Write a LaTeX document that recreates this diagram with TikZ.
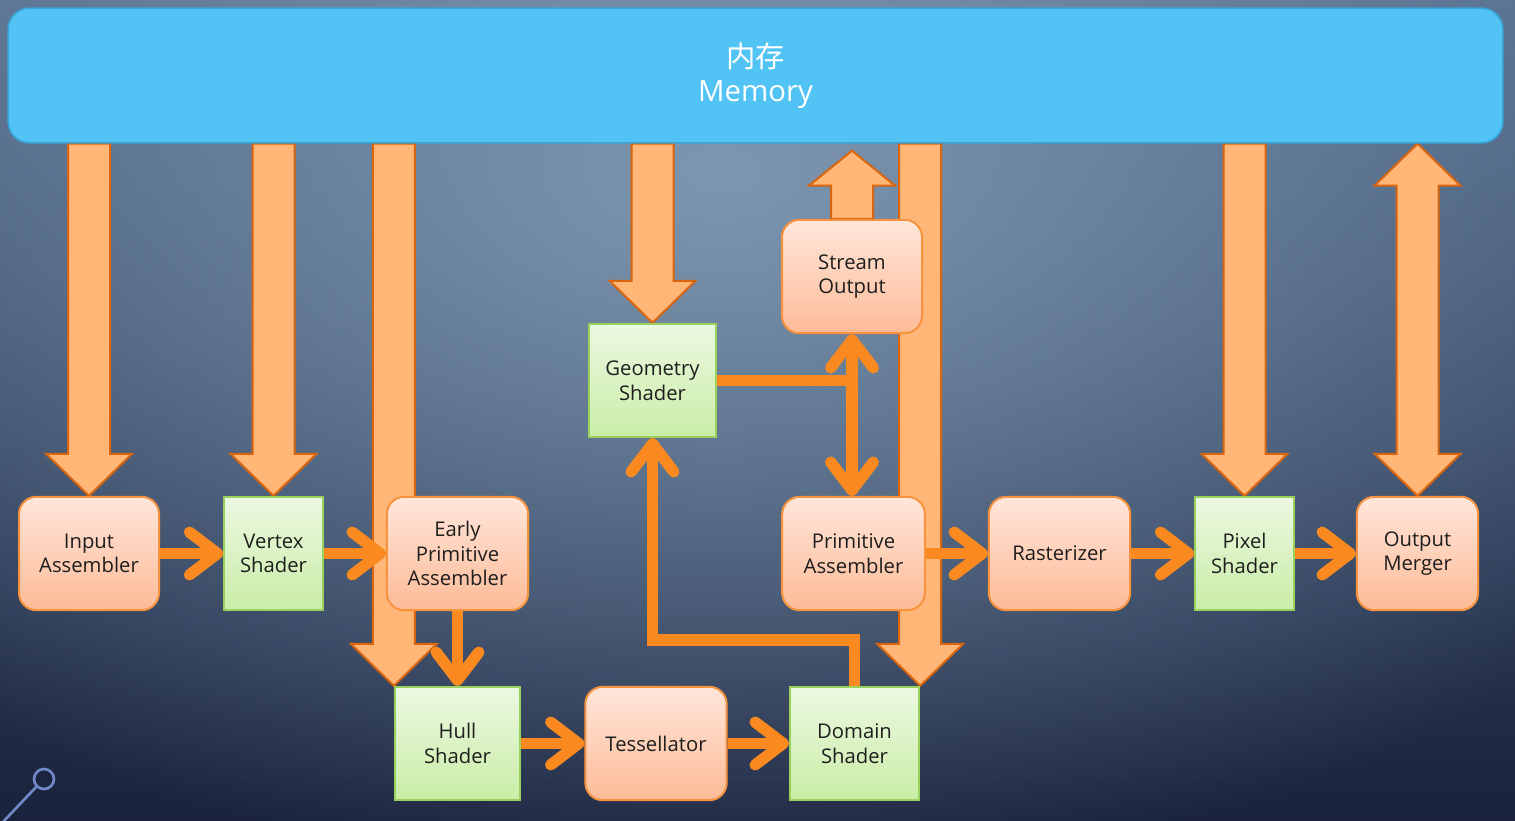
\documentclass[tikz,border=0pt]{standalone}
\usepackage{fontspec}
\setmainfont{Open Sans}
\newfontfamily\cjk{Noto Sans CJK SC}
\usetikzlibrary{arrows.meta,calc,fadings}

\definecolor{bgtop}{HTML}{4E6889}
\definecolor{bgmid}{HTML}{2F4262}
\definecolor{bgbot}{HTML}{1A223C}
\definecolor{bgglow}{HTML}{7E97B0}
\definecolor{memfill}{HTML}{52C3F5}
\definecolor{memline}{HTML}{3AA6D8}
\definecolor{widefill}{HTML}{FFB677}
\definecolor{wideline}{HTML}{D9650F}
\definecolor{flowc}{HTML}{FA8A20}
\definecolor{stagetop}{HTML}{FFE6DA}
\definecolor{stagebot}{HTML}{FDBB97}
\definecolor{stageline}{HTML}{F7923F}
\definecolor{shadertop}{HTML}{ECF8E2}
\definecolor{shaderbot}{HTML}{C9EDA6}
\definecolor{shaderline}{HTML}{9AD05C}
\definecolor{txt}{HTML}{1E1E1E}
\definecolor{decoc}{HTML}{6F89C9}

\pgfdeclarelayer{back}
\pgfdeclarelayer{pipes}
\pgfsetlayers{back,pipes,main}

\tikzfading[name=glow, inner color=transparent!0, outer color=transparent!100]

\tikzset{
  box/.style={minimum height=85pt, align=center, text=txt, inner sep=2pt,
    font=\fontsize{15.2}{18.5}\selectfont, line width=1.5pt},
  stage/.style={box, rounded corners=13pt, draw=stageline, top color=stagetop, bottom color=stagebot},
  shader/.style={box, draw=shaderline, top color=shadertop, bottom color=shaderbot},
  membar/.style={rounded corners=16pt, draw=memline, fill=memfill, line width=1.2pt, text=white,
    align=center, font=\fontsize{22}{25.5}\selectfont},
  wide/.style={draw=wideline, fill=widefill, line width=1.5pt},
  flow/.style={draw=flowc, line width=8.5pt, -{Straight Barb[length=21pt,width=32pt,round]}},
  deco/.style={draw=decoc, line width=2pt},
}

% wide arrow from the memory bar down to #1
\newcommand{\memdown}[1]{%
  \draw[wide] (#1) -- ($(#1)+(-43,-42)$) -- ($(#1)+(-21,-42)$) -- ($(mem.south -| #1)+(-21,0)$)
    -- ($(mem.south -| #1)+(21,0)$) -- ($(#1)+(21,-42)$) -- ($(#1)+(43,-42)$) -- cycle;}
% wide arrow both ways between the memory bar and #1
\newcommand{\memboth}[1]{%
  \draw[wide] (#1) -- ($(#1)+(-43,-42)$) -- ($(#1)+(-21,-42)$) -- ($(mem.south -| #1)+(-21,42)$)
    -- ($(mem.south -| #1)+(-43,42)$) -- (mem.south -| #1) -- ($(mem.south -| #1)+(43,42)$)
    -- ($(mem.south -| #1)+(21,42)$) -- ($(#1)+(21,-42)$) -- ($(#1)+(43,-42)$) -- cycle;}

\begin{document}
\begin{tikzpicture}[x=0.75pt,y=0.75pt,yscale=-1,xscale=1]
\useasboundingbox (0,0) rectangle (1515,820);

\begin{pgfonlayer}{back}
\shade[top color=bgtop, middle color=bgmid, bottom color=bgbot] (0,0) rectangle (1515,820);
\fill[bgglow, path fading=glow] (720,170) ellipse [x radius=1150, y radius=720];
\draw[deco] (44,779) circle [radius=10];
\draw[deco] (37,786) -- (3,822);
\end{pgfonlayer}

\node[membar, minimum width=1121pt, minimum height=101pt] (mem) at (755.5,75.5) {{\cjk 内存}\\Memory};

\node[stage, minimum width=105pt] (ia) at (89,553.5) {Input\\Assembler};
\node[shader, minimum width=74pt] (vs) at (273.5,553.5) {Vertex\\Shader};
\node[stage, minimum width=106pt] (epa) at (457.5,553.5) {Early\\Primitive\\Assembler};
\node[shader, minimum width=94pt] (hs) at (457.5,743.5) {Hull\\Shader};
\node[stage, minimum width=106pt] (ts) at (656,743.5) {Tessellator};
\node[shader, minimum width=97pt] (ds) at (854.5,743.5) {Domain\\Shader};
\node[shader, minimum width=95pt] (gs) at (652.5,380.5) {Geometry\\Shader};
\node[stage, minimum width=105pt] (so) at (852,276.5) {Stream\\Output};
\node[stage, minimum width=107pt] (pa) at (853.5,553.5) {Primitive\\Assembler};
\node[stage, minimum width=106pt] (rs) at (1059.5,553.5) {Rasterizer};
\node[shader, minimum width=74pt] (ps) at (1244.5,553.5) {Pixel\\Shader};
\node[stage, minimum width=91pt] (om) at (1417.5,553.5) {Output\\Merger};

\begin{pgfonlayer}{pipes}
\memdown{ia.north}
\memdown{vs.north}
\memdown{hs.north west}
\memdown{gs.north}
\memdown{ds.north east}
\memdown{ps.north}
\memboth{om.north}
\draw[wide] ($(so.north)+(-21,0)$) -- ($(mem.south -| so.north)+(-21,42)$) -- ($(mem.south -| so.north)+(-43,42)$)
  -- ($(mem.south -| so.north)+(0,7)$) -- ($(mem.south -| so.north)+(43,42)$) -- ($(mem.south -| so.north)+(21,42)$)
  -- ($(so.north)+(21,0)$) -- cycle;
\end{pgfonlayer}

\coordinate (split) at (gs.east -| so.south);
\draw[flow] (ia.east) -- (vs.west);
\draw[flow] (vs.east) -- (epa.west);
\draw[flow] (epa.south) -- (hs.north);
\draw[flow] (hs.east) -- (ts.west);
\draw[flow] (ts.east) -- (ds.west);
\draw[flow] (ds.north) -- ++(0,-46) -| (gs.south);
\draw[flow] (gs.east) -- (split) -- (so.south);
\draw[flow] (split) -- (split |- pa.north);
\draw[flow] (pa.east) -- (rs.west);
\draw[flow] (rs.east) -- (ps.west);
\draw[flow] (ps.east) -- (om.west);

\end{tikzpicture}
\end{document}
